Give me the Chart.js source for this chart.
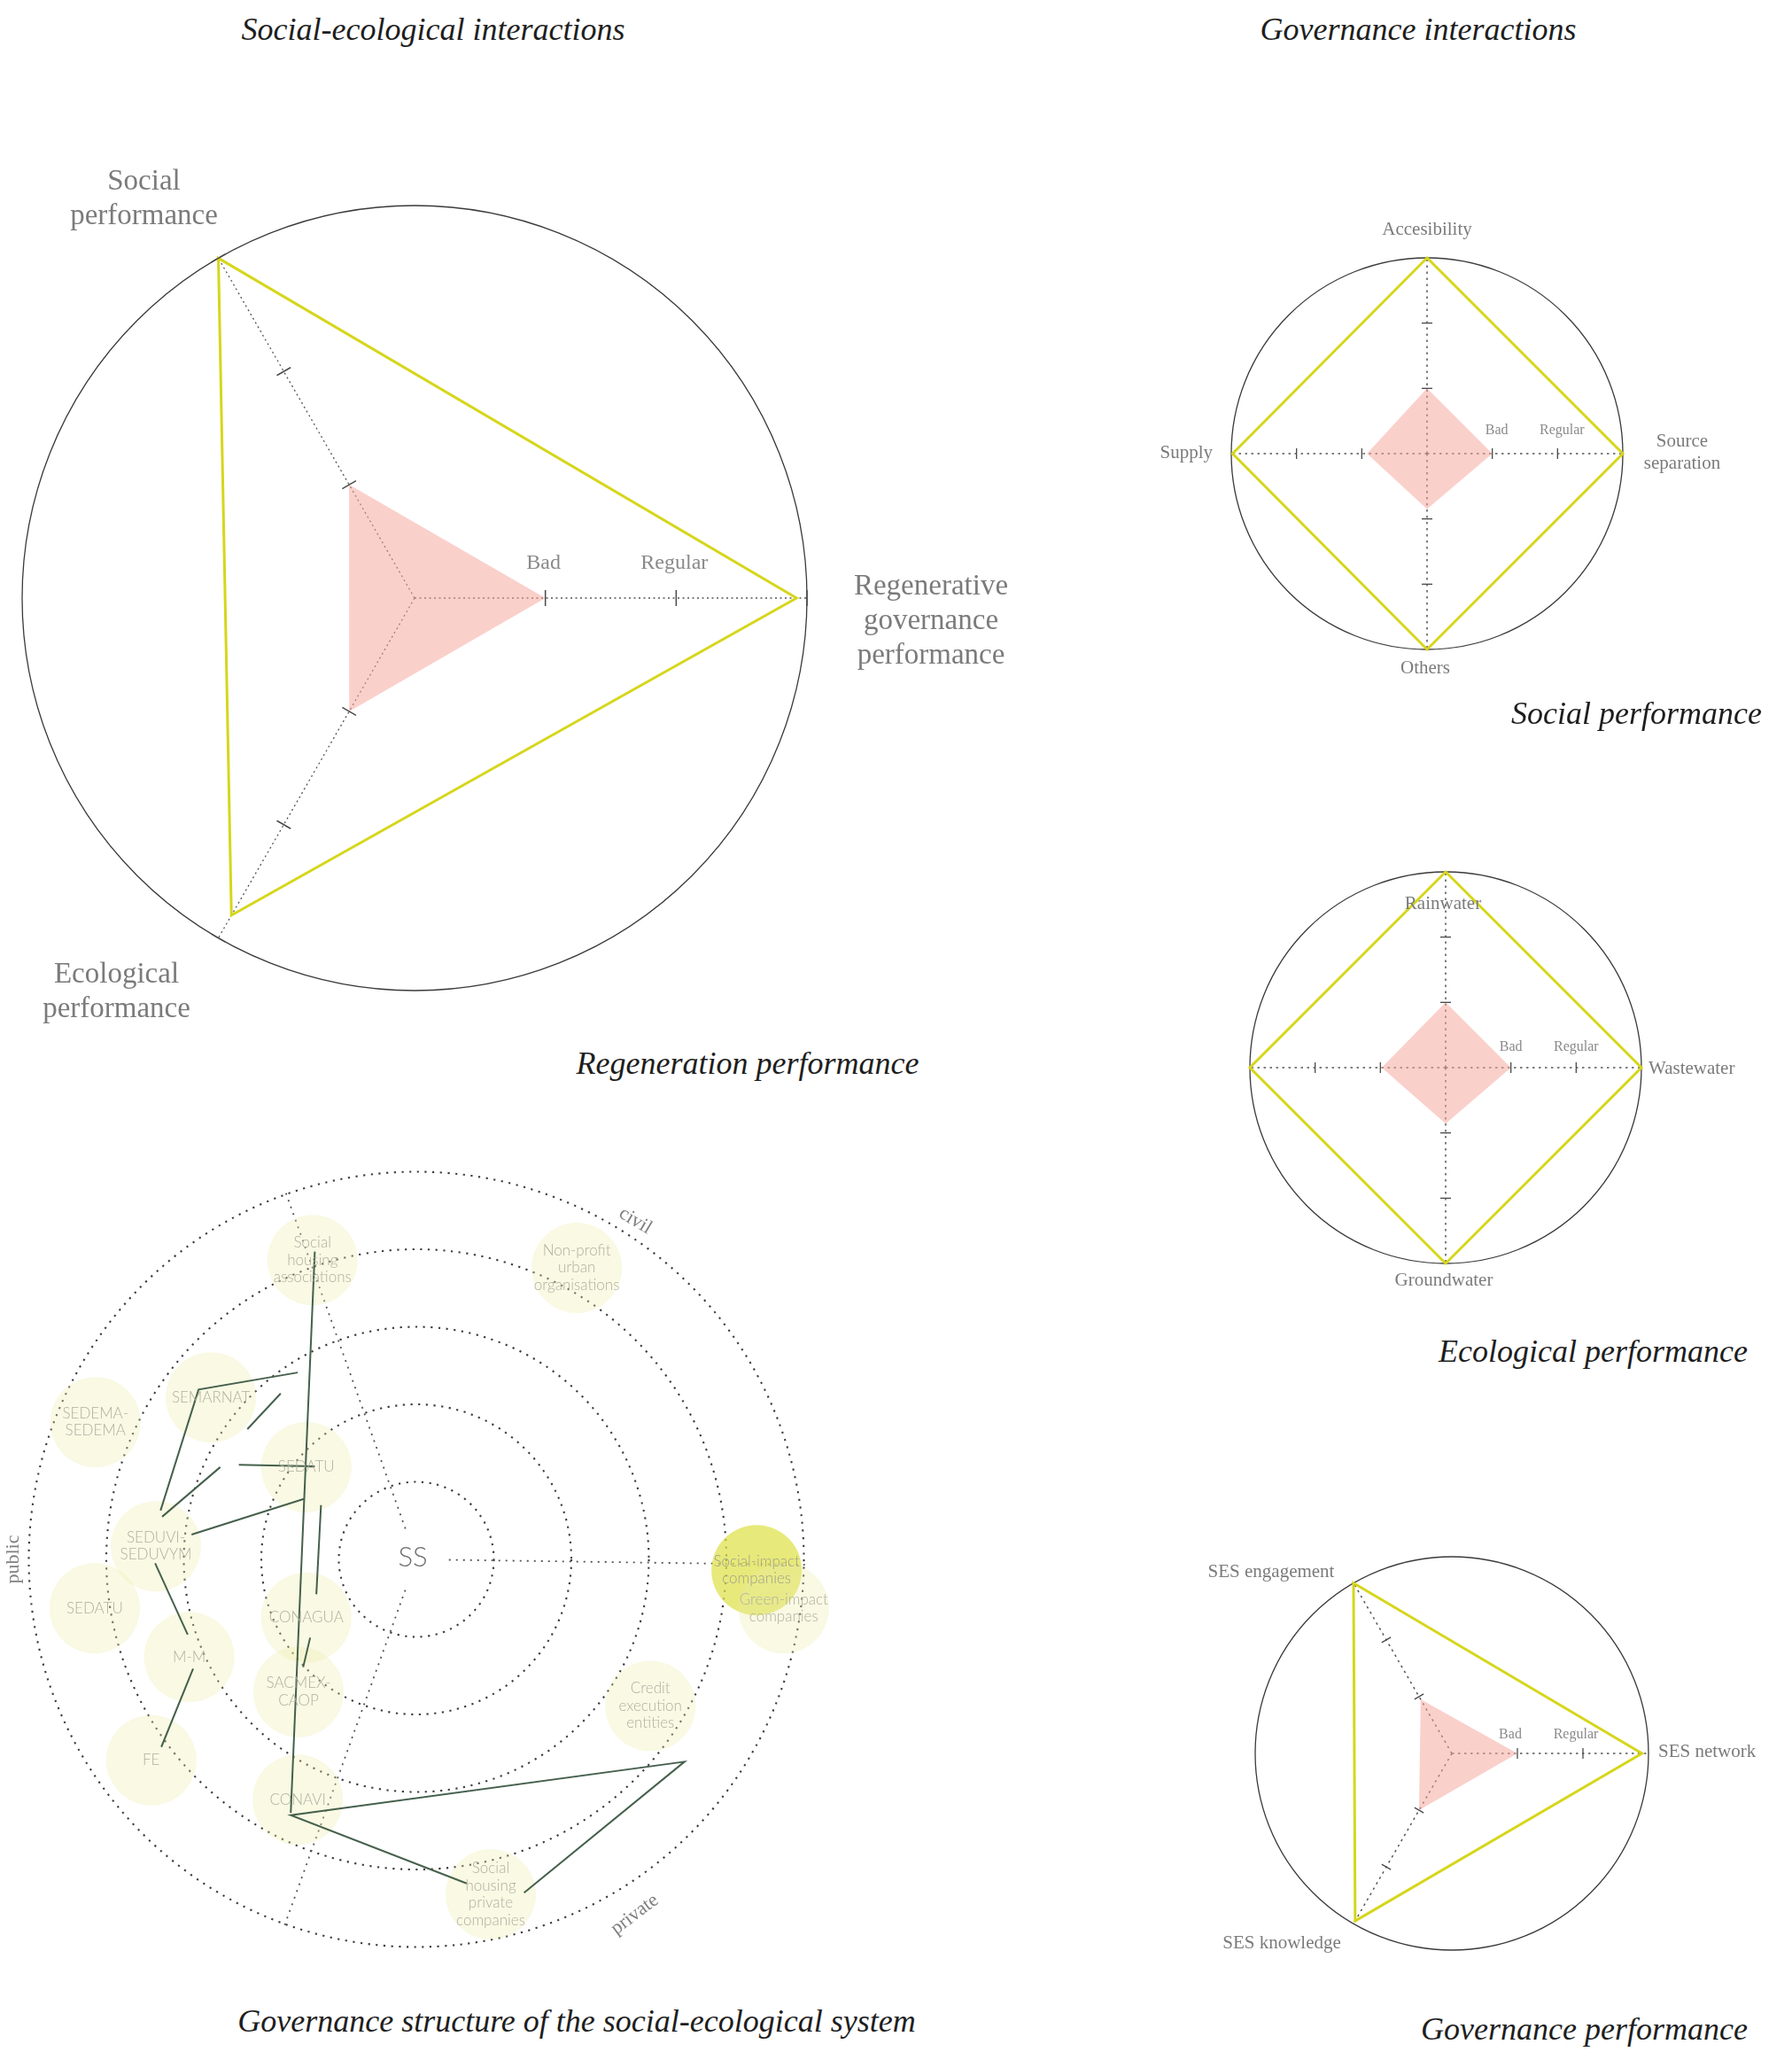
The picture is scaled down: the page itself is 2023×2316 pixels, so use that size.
<!DOCTYPE html>
<html>
<head>
<meta charset="utf-8">
<title>Regeneration performance</title>
<script src="https://cdn.jsdelivr.net/npm/chart.js@4.4.1/dist/chart.umd.min.js"></script>
<style>
  html, body { margin: 0; padding: 0; background: #fff; overflow: hidden; }
  #page { position: relative; width: 2023px; height: 2316px; }
  canvas { position: absolute; }
  .title { position: absolute; font-family: 'Liberation Serif', 'DejaVu Serif', serif; font-style: italic; font-size: 36px; color: #1e1e1e; white-space: nowrap; line-height: 1; }
  .mid { transform: translate(-50%, -50%); }
  .end { transform: translate(0, -50%); text-align: right; }
</style>
</head>
<body>
<div id="page">
  <canvas id="regenChart"></canvas>
  <canvas id="socialChart"></canvas>
  <canvas id="ecoChart"></canvas>
  <canvas id="govChart"></canvas>
  <canvas id="actorChart"></canvas>

  <div class="title mid" style="left:489px; top:33px">Social-ecological interactions</div>
  <div class="title mid" style="left:1601px; top:33px">Governance interactions</div>
  <div class="title mid" style="left:844px; top:1200px">Regeneration performance</div>
  <div class="title end" style="right:34px; top:805px">Social performance</div>
  <div class="title end" style="right:50px; top:1525px">Ecological performance</div>
  <div class="title end" style="right:50px; top:2290px">Governance performance</div>
  <div class="title mid" style="left:651px; top:2281px">Governance structure of the social-ecological system</div>
</div>
<script>
// ---- data ----
const LEVEL_LABELS = ['Bad', 'Regular'];
const LEVEL_VALUES = [1, 2];

const REGEN_AXES = [['Social', 'performance'], ['Regenerative', 'governance', 'performance'], ['Ecological', 'performance']];
const REGEN_TARGET = [3, 2.92, 2.8];
const REGEN_CURRENT = [1, 1, 1];

const SOCIAL_AXES = ['Accesibility', ['Source', 'separation'], 'Others', 'Supply'];
const SOCIAL_TARGET = [3, 3, 3, 2.98];
const SOCIAL_CURRENT = [1, 1, 0.85, 0.92];

const ECO_AXES = ['Rainwater', 'Wastewater', 'Groundwater', ''];
const ECO_TARGET = [3, 3, 3, 3];
const ECO_CURRENT = [1, 1, 0.86, 0.98];

const GOV_AXES = ['SES engagement', 'SES network', 'SES knowledge'];
const GOV_TARGET = [3, 2.9, 2.95];
const GOV_CURRENT = [0.95, 1, 1];

const ACTOR_NAMES = [
  ['Social', 'housing', 'associations'], ['Non-profit', 'urban', 'organisations'], ['SEMARNAT'],
  ['SEDEMA-', 'SEDEMA'], ['SEDATU'], ['SEDUVI-', 'SEDUVYM'], ['SEDATU'], ['CONAGUA'], ['M-M'],
  ['SACMEX-', 'CAOP'], ['FE'], ['CONAVI'], ['Social', 'housing', 'private', 'companies'],
  ['Credit', 'execution', 'entities'], ['Social-impact', 'companies'], ['Green-impact', 'companies']
];
const ACTOR_X = [-1.34, 2.07, -2.65, -4.14, -1.42, -3.36, -4.15, -1.42, -2.93, -1.52, -3.42, -1.53, 0.96, 3.02, 4.39, 4.74];
const ACTOR_Y = [3.86, 3.76, 2.09, 1.77, 1.19, 0.17, -0.63, -0.75, -1.26, -1.71, -2.59, -3.10, -4.32, -1.89, -0.14, -0.63];
const HIGHLIGHT_ACTOR = 14;

const LINKS = [
  [[-1.31, 3.97], [-1.62, -3.27]],
  [[-1.53, 2.41], [-2.81, 2.19], [-3.30, 0.63]],
  [[-1.75, 2.14], [-2.18, 1.68]],
  [[-2.29, 1.22], [-1.31, 1.20]],
  [[-2.53, 1.19], [-3.28, 0.55]],
  [[-2.90, 0.32], [-1.45, 0.78]],
  [[-1.23, 0.70], [-1.29, -0.45]],
  [[-3.37, -0.05], [-2.95, -0.97]],
  [[-2.88, -1.41], [-3.29, -2.42]],
  [[-1.37, -1.01], [-1.46, -1.39]],
  [[0.65, -4.18], [-1.62, -3.30], [3.46, -2.61], [1.39, -4.30]]
];

const RINGS = [1, 2, 3, 4, 5];
const SECTOR_ANGLES = [109.6, -109.8, -0.8];
const SECTOR_NAMES = ['civil', 'private', 'public'];
const SECTOR_NAME_ANGLES = [57.1, -58.4, 180];

// ---- style ----
const SERIF = "'Liberation Serif', 'DejaVu Serif', serif";
const SANS = "Lato, 'Open Sans', sans-serif";
const YELLOW = '#d6d61c';
const PINK = 'rgba(246, 165, 155, 0.52)';
const LINK_COLOR = '#45604c';
const PALE = 'rgba(236, 236, 170, 0.32)';
const BRIGHT = 'rgba(222, 224, 70, 0.72)';
const BUBBLE_R = 51;

function placeCanvas(id, box) {
  const c = document.getElementById(id);
  c.width = box.w; c.height = box.h;
  c.style.left = box.x + 'px'; c.style.top = box.y + 'px';
  c.style.width = box.w + 'px'; c.style.height = box.h + 'px';
  return c;
}

function radarDecor(cfg) {
  return {
    id: 'radarDecor',
    afterDatasetsDraw(chart) {
      const s = chart.scales.r, ctx = chart.ctx;
      ctx.save();
      ctx.strokeStyle = '#4a4a4a';
      ctx.lineWidth = cfg.tickWidth;
      chart.data.labels.forEach((_, i) => {
        cfg.ticks.forEach(v => {
          const p = s.getPointPosition(i, s.getDistanceFromCenterForValue(v));
          const a = s.getIndexAngle(i) - Math.PI / 2;
          const nx = -Math.sin(a) * cfg.tickLen / 2, ny = Math.cos(a) * cfg.tickLen / 2;
          ctx.beginPath();
          ctx.moveTo(p.x - nx, p.y - ny);
          ctx.lineTo(p.x + nx, p.y + ny);
          ctx.stroke();
        });
      });
      ctx.textAlign = 'center';
      ctx.textBaseline = 'middle';
      ctx.fillStyle = '#8a8a8a';
      ctx.font = cfg.levelSize + 'px ' + SERIF;
      LEVEL_VALUES.forEach((v, j) => {
        const p = s.getPointPosition(cfg.levelAxis, s.getDistanceFromCenterForValue(v));
        ctx.fillText(LEVEL_LABELS[j], p.x + cfg.levelDx, p.y + cfg.levelDy);
      });
      ctx.fillStyle = '#7b7b7b';
      ctx.font = cfg.labelSize + 'px ' + SERIF;
      chart.data.labels.forEach((label, i) => {
        const pos = cfg.labelPos[i];
        if (!pos) return;
        const p = s.getPointPosition(i, s.drawingArea);
        const lines = Array.isArray(label) ? label : [label];
        ctx.textAlign = pos.align || 'center';
        lines.forEach((line, k) => ctx.fillText(line, p.x + pos.dx, p.y + pos.dy + k * cfg.lineHeight));
      });
      ctx.restore();
    }
  };
}

function radarChart(id, cfg) {
  const { box, cx, cy, r } = cfg;
  const canvas = placeCanvas(id, box);
  return new Chart(canvas, {
    type: 'radar',
    data: {
      labels: cfg.labels,
      datasets: [
        { data: cfg.target, borderColor: YELLOW, borderWidth: cfg.lineWidth, backgroundColor: 'transparent', fill: false, pointRadius: 0 },
        { data: cfg.current, borderWidth: 0, borderColor: 'transparent', backgroundColor: PINK, fill: true, pointRadius: 0 }
      ]
    },
    options: {
      responsive: false, animation: false, devicePixelRatio: 1,
      layout: { padding: { left: cx - r - box.x, top: cy - r - box.y, right: box.x + box.w - cx - r, bottom: box.y + box.h - cy - r } },
      plugins: { legend: { display: false }, tooltip: { enabled: false } },
      elements: { line: { tension: 0, borderJoinStyle: 'miter' } },
      scales: {
        r: {
          min: 0, max: 3, startAngle: cfg.startAngle,
          ticks: { display: false, stepSize: 1 },
          pointLabels: { display: false },
          grid: { circular: true, color: c => c.tick.value === 3 ? '#3a3a3a' : 'transparent', lineWidth: 1.3 },
          angleLines: { color: '#555', lineWidth: cfg.axisWidth, borderDash: cfg.dash }
        }
      }
    },
    plugins: [radarDecor(cfg)]
  });
}

radarChart('regenChart', {
  box: { x: 0, y: 60, w: 1200, h: 1120 }, cx: 468, cy: 675, r: 443, startAngle: -30,
  labels: REGEN_AXES, target: REGEN_TARGET, current: REGEN_CURRENT,
  lineWidth: 3, axisWidth: 1.3, dash: [2, 3.5], ticks: [1, 2, 3], tickLen: 18, tickWidth: 1.5,
  levelAxis: 1, levelDx: -2, levelDy: -39, levelSize: 24, labelSize: 33, lineHeight: 39,
  labelPos: [{ dx: -84, dy: -86 }, { dx: 140, dy: -13 }, { dx: -115, dy: 42 }]
});

radarChart('socialChart', {
  box: { x: 1250, y: 200, w: 773, h: 600 }, cx: 1611, cy: 512, r: 221, startAngle: 0,
  labels: SOCIAL_AXES, target: SOCIAL_TARGET, current: SOCIAL_CURRENT,
  lineWidth: 3, axisWidth: 1.5, dash: [2.5, 4.5], ticks: [1, 2], tickLen: 12, tickWidth: 1.3,
  levelAxis: 1, levelDx: 5, levelDy: -26, levelSize: 16, labelSize: 21, lineHeight: 25,
  labelPos: [{ dx: 0, dy: -32 }, { dx: 67, dy: -14 }, { dx: -2, dy: 21 }, { dx: -21, dy: -1, align: 'right' }]
});

radarChart('ecoChart', {
  box: { x: 1300, y: 930, w: 723, h: 540 }, cx: 1632, cy: 1205, r: 221, startAngle: 0,
  labels: ECO_AXES, target: ECO_TARGET, current: ECO_CURRENT,
  lineWidth: 3, axisWidth: 1.5, dash: [2.5, 4.5], ticks: [1, 2], tickLen: 12, tickWidth: 1.3,
  levelAxis: 1, levelDx: 0, levelDy: -23, levelSize: 16, labelSize: 21, lineHeight: 25,
  labelPos: [{ dx: -3, dy: 36 }, { dx: 8, dy: 1, align: 'left' }, { dx: -2, dy: 19 }, null]
});

radarChart('govChart', {
  box: { x: 1300, y: 1730, w: 723, h: 520 }, cx: 1639, cy: 1979, r: 222, startAngle: -30,
  labels: GOV_AXES, target: GOV_TARGET, current: GOV_CURRENT,
  lineWidth: 3, axisWidth: 1.5, dash: [2.5, 4.5], ticks: [1, 2], tickLen: 12, tickWidth: 1.3,
  levelAxis: 1, levelDx: -8, levelDy: -21, levelSize: 16, labelSize: 21, lineHeight: 25,
  labelPos: [{ dx: -93, dy: -12 }, { dx: 11, dy: -2, align: 'left' }, { dx: -81, dy: 22 }]
});

// ---- governance structure ----
const NET_BOX = { x: 0, y: 1290, w: 960, h: 950 };
const NET_CENTER = { x: 470, y: 1760 };
const NET_UNIT = 87.5;
const NET_PAD = 60;
const SECTOR_TEXT = { dist: [5.2, 5.38, 5.2], rot: [31, -37, -90] };

const actorDecor = {
  id: 'actorDecor',
  beforeDatasetsDraw(chart) {
    const { x: sx, y: sy } = chart.scales, ctx = chart.ctx;
    const ox = sx.getPixelForValue(0), oy = sy.getPixelForValue(0);
    const unit = sx.getPixelForValue(1) - ox;
    ctx.save();
    ctx.strokeStyle = '#3d3d3d';
    ctx.lineWidth = 2.1;
    ctx.setLineDash([2.2, 6.5]);
    RINGS.forEach(k => {
      ctx.beginPath();
      ctx.arc(ox, oy, k * unit, 0, Math.PI * 2);
      ctx.stroke();
    });
    ctx.strokeStyle = '#555';
    ctx.lineWidth = 1.8;
    ctx.setLineDash([2, 6]);
    SECTOR_ANGLES.forEach(deg => {
      const a = deg * Math.PI / 180;
      const r0 = 0.42, r1 = RINGS[RINGS.length - 1] + 0.03;
      ctx.beginPath();
      ctx.moveTo(sx.getPixelForValue(r0 * Math.cos(a)), sy.getPixelForValue(r0 * Math.sin(a)));
      ctx.lineTo(sx.getPixelForValue(r1 * Math.cos(a)), sy.getPixelForValue(r1 * Math.sin(a)));
      ctx.stroke();
    });
    ctx.restore();
  },
  afterDatasetsDraw(chart) {
    const { x: sx, y: sy } = chart.scales, ctx = chart.ctx;
    ctx.save();
    ctx.textAlign = 'center';
    ctx.textBaseline = 'middle';
    ctx.font = '300 17px ' + SANS;
    ACTOR_NAMES.forEach((lines, i) => {
      const px = sx.getPixelForValue(ACTOR_X[i]), py = sy.getPixelForValue(ACTOR_Y[i]);
      const lh = 19.5, top = py - (lines.length - 1) * lh / 2;
      ctx.fillStyle = i === HIGHLIGHT_ACTOR ? '#a2a28a' : '#b0b0a2';
      lines.forEach((t, k) => ctx.fillText(t, px, top + k * lh));
    });
    ctx.fillStyle = '#6f6f6f';
    ctx.font = '300 31px ' + SANS;
    ctx.fillText('SS', sx.getPixelForValue(0) - 4, sy.getPixelForValue(0) - 2);
    ctx.fillStyle = '#808080';
    ctx.font = '22px ' + SERIF;
    SECTOR_NAMES.forEach((name, i) => {
      const a = SECTOR_NAME_ANGLES[i] * Math.PI / 180, d = SECTOR_TEXT.dist[i];
      ctx.save();
      ctx.translate(sx.getPixelForValue(d * Math.cos(a)), sy.getPixelForValue(d * Math.sin(a)));
      ctx.rotate(SECTOR_TEXT.rot[i] * Math.PI / 180);
      ctx.fillText(name, 0, 0);
      ctx.restore();
    });
    ctx.restore();
  }
};

const actorCanvas = placeCanvas('actorChart', NET_BOX);
const xMin = (NET_BOX.x + NET_PAD - NET_CENTER.x) / NET_UNIT;
const xMax = (NET_BOX.x + NET_BOX.w - NET_PAD - NET_CENTER.x) / NET_UNIT;
const yMax = (NET_CENTER.y - NET_BOX.y - NET_PAD) / NET_UNIT;
const yMin = (NET_CENTER.y - (NET_BOX.y + NET_BOX.h - NET_PAD)) / NET_UNIT;

new Chart(actorCanvas, {
  type: 'bubble',
  data: {
    datasets: [
      ...LINKS.map(path => ({
        type: 'line',
        data: path.map(([x, y]) => ({ x, y })),
        borderColor: LINK_COLOR, borderWidth: 2, pointRadius: 0, fill: false, tension: 0, clip: false
      })),
      {
        data: ACTOR_X.map((x, i) => ({ x, y: ACTOR_Y[i], r: BUBBLE_R })),
        backgroundColor: ACTOR_X.map((_, i) => i === HIGHLIGHT_ACTOR ? BRIGHT : PALE),
        borderWidth: 0, hoverRadius: 0, clip: false
      }
    ]
  },
  options: {
    responsive: false, animation: false, devicePixelRatio: 1,
    layout: { padding: NET_PAD },
    plugins: { legend: { display: false }, tooltip: { enabled: false } },
    scales: {
      x: { type: 'linear', display: false, min: xMin, max: xMax, bounds: 'data' },
      y: { type: 'linear', display: false, min: yMin, max: yMax, bounds: 'data' }
    }
  },
  plugins: [actorDecor]
});
</script>
</body>
</html>
